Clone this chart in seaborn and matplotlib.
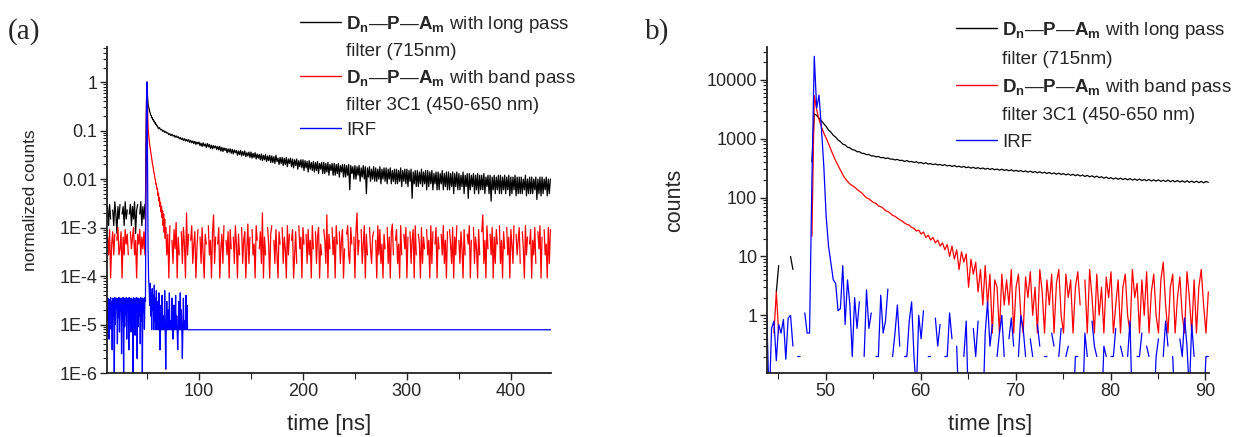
import numpy as np
import matplotlib
matplotlib.use("Agg")
import matplotlib.pyplot as plt
import seaborn as sns
from matplotlib.lines import Line2D
from matplotlib.ticker import LogLocator, MultipleLocator, NullFormatter

# ---------------- panel (a): normalized counts vs time [ns] ----------------
# black: long pass filter (values in units of 1e-3)
a_black_pre_time = np.arange(12.0, 48.5, 1.0)
a_black_pre = [2.7, 1.1, 3.0, 1.5, 0, 2.3, 1.1, 3.4, 1.9, 0.76, 2.7, 1.5, 3.0, 0, 1.9, 2.7, 1.1, 3.4, 1.5,
               2.3, 0, 1.9, 3.0, 1.1, 2.7, 1.5, 3.4, 0.76, 2.3, 3.0, 0, 1.9, 3.4, 1.1, 2.7, 1.5, 3.0]
a_black_rise_time = np.arange(48.5, 60.0, 0.5)
a_black_rise = [3.0, 30, 400, 1000, 500, 360, 305, 285, 248, 236, 210, 206, 185, 186, 168, 170, 155, 156,
                143, 145, 132, 134, 124]
a_black_tail_time = np.arange(60.0, 439.0, 1.0)
a_black_tail = [124, 110, 115, 104, 106, 97, 101, 92, 95, 89,
                90, 82, 86, 79, 84, 77, 80, 73, 78, 72,
                75, 68, 72, 65, 70, 63, 68, 61, 66, 60,
                65, 57, 63, 56, 61, 54, 60, 52, 58, 53,
                58, 49, 55, 47, 56, 48, 53, 45, 54, 46,
                52, 43, 50, 42, 49, 44, 48, 41, 47, 40,
                47, 38, 45, 37, 44, 39, 43, 35, 42, 36,
                42, 34, 41, 33, 40, 35, 39, 31, 38, 32,
                39, 30, 37, 31, 38, 29, 35, 30, 36, 28,
                36, 27, 34, 28, 35, 26, 33, 27, 32, 25,
                33, 24, 31, 25, 32, 23, 30, 24, 31, 22,
                30, 22, 29, 21, 31, 23, 27, 20, 28, 21,
                28, 19, 27, 20, 28, 18, 26, 21, 27, 18,
                26, 17, 25, 19, 26, 16, 24, 18, 25, 17,
                25, 15, 24, 17, 23, 14, 24, 16, 22, 15,
                23, 14, 22, 15, 23, 13, 21, 16, 22, 13,
                22, 13, 21, 14, 22, 12, 20, 15, 21, 12,
                21, 12, 20, 13, 21, 11, 19, 14, 20, 11,
                20, 11, 19, 12, 20, 6, 19, 13, 18, 10,
                19, 10, 18, 12, 19, 9, 17, 11, 19, 10,
                18, 5, 17, 11, 18, 9, 16, 10, 18, 9,
                17, 9, 16, 10, 18, 8, 16, 10, 17, 9,
                17, 8, 16, 10, 17, 8, 15, 9, 16, 8,
                16, 8, 15, 9, 17, 7, 15, 9, 16, 8,
                16, 7, 15, 9, 16, 4, 14, 8, 15, 7,
                15, 7, 14, 8, 16, 7, 14, 8, 15, 6,
                15, 7, 14, 8, 15, 6, 13, 8, 14, 6,
                14, 6, 13, 8, 15, 6, 13, 7, 14, 6,
                14, 6, 13, 7, 14, 5, 13, 7, 14, 6,
                13, 6, 12, 7, 14, 5, 12, 7, 13, 4,
                13, 6, 12, 7, 13, 5, 12, 6, 13, 5,
                12, 6, 12, 6, 13, 5, 11, 7, 12, 5,
                12, 3.5, 11, 6, 12, 5, 11, 6, 12, 5,
                12, 5, 11, 6, 12, 5, 11, 6, 12, 4.5,
                11, 5, 11, 6, 12, 4.5, 11, 5, 11, 5,
                11, 5, 10, 6, 12, 4.5, 10, 5, 11, 5,
                11, 5, 10, 6, 11, 3.8, 10, 5, 11, 4.5,
                11, 5, 10, 6, 11, 4.5, 10, 5, 10]

# red: band pass filter (pre/tail in counts, one count = 9.1e-5 normalized)
a_red_count_unit = 9.1e-5
a_red_pre_time = np.arange(12.0, 48.5, 1.0)
a_red_pre = [7, 3, 10, 1, 5, 9, 3, 8, 0, 6, 11, 3, 4, 9, 1, 7, 3, 10, 5, 8, 3, 0, 9, 4, 7, 11, 3, 6, 1, 8,
             5, 10, 3, 7, 4, 9, 3]
a_red_rise_time = np.arange(48.5, 68.0, 0.5)
a_red_rise = [9e-4, 0.02, 0.4, 1.0, 0.3, 0.12, 0.085, 0.066, 0.052, 0.044,
              0.036, 0.031, 0.026, 0.023, 0.019, 0.017, 0.014, 0.013, 0.0105, 0.0098,
              0.0078, 0.0079, 0.0062, 0.0064, 0.0046, 0.0051, 0.0035, 0.0041, 0.0027, 0.0033,
              0.0021, 0.0027, 0.0016, 0.0022, 0.0011, 0.0019, 0.0008, 0.0015, 0.0006]
a_red_tail_time = np.arange(68.0, 439.0, 1.0)
a_red_tail = [11, 3, 8, 1, 12, 0, 6, 2, 10, 4,
              14, 1, 7, 3, 0, 9, 2, 11, 5, 1,
              22, 3, 8, 0, 6, 12, 2, 5, 9, 1,
              4, 10, 0, 7, 2, 11, 3, 1, 8, 5,
              0, 12, 3, 6, 1, 9, 20, 2, 7, 0,
              5, 11, 1, 4, 8, 2, 12, 0, 6, 3,
              9, 1, 10, 4, 0, 7, 2, 12, 5, 1,
              8, 3, 0, 11, 2, 6, 9, 1, 4, 13,
              2, 7, 0, 10, 3, 5, 1, 12, 6, 0,
              4, 9, 2, 22, 1, 7, 3, 0, 11, 5,
              1, 8, 12, 0, 6, 2, 10, 3, 1, 9,
              5, 0, 11, 2, 7, 4, 1, 12, 3, 8,
              0, 6, 10, 1, 3, 9, 2, 0, 12, 4,
              7, 1, 11, 5, 0, 8, 2, 10, 3, 6,
              1, 12, 4, 0, 9, 2, 7, 11, 1, 5,
              3, 0, 10, 6, 2, 20, 1, 8, 4, 0,
              11, 3, 7, 1, 12, 5, 0, 9, 2, 6,
              10, 1, 4, 0, 8, 12, 3, 2, 11, 5,
              0, 7, 1, 9, 22, 3, 6, 0, 10, 2,
              5, 12, 1, 8, 3, 0, 11, 4, 2, 7,
              9, 0, 6, 1, 12, 3, 10, 2, 5, 1,
              8, 4, 0, 11, 2, 7, 1, 9, 13, 3,
              0, 6, 10, 2, 5, 1, 12, 3, 0, 8,
              4, 11, 1, 7, 0, 9, 2, 6, 10, 1,
              12, 3, 0, 8, 5, 1, 11, 2, 7, 4,
              0, 10, 3, 6, 1, 12, 2, 9, 0, 5,
              11, 1, 7, 4, 0, 8, 3, 12, 2, 6,
              1, 9, 0, 10, 5, 2, 11, 1, 7, 3,
              12, 0, 6, 2, 9, 4, 1, 10, 3, 0,
              8, 5, 12, 1, 6, 0, 11, 2, 7, 4,
              1, 10, 3, 0, 9, 20, 2, 6, 1, 12,
              4, 0, 8, 3, 11, 1, 7, 2, 10, 5,
              0, 12, 2, 6, 1, 9, 4, 0, 11, 3,
              7, 1, 10, 5, 2, 12, 0, 8, 3, 6,
              11, 2, 0, 9, 4, 1, 12, 3, 7, 0,
              5, 10, 1, 6, 3, 11, 2, 0, 9, 4,
              12, 1, 7, 0, 10, 3, 5, 1, 11, 2,
              10]

# blue: IRF (values in units of 1e-6)
a_blue_pre_time = np.arange(12.0, 48.5, 0.5)
a_blue_pre = [35, 12, 34, 5, 33, 18, 36, 8, 30, 3,
              35, 15, 34, 0.6, 36, 10, 33, 22, 35, 4,
              34, 14, 36, 7, 32, 19, 35, 2.5, 34, 12,
              36, 0.7, 35, 9, 33, 16, 36, 5, 34, 20,
              35, 3, 36, 11, 34, 7, 35, 17, 33, 0.8,
              36, 13, 34, 6, 35, 21, 36, 2, 34, 9,
              35, 15, 33, 4, 36, 12, 34, 0.9, 35, 18,
              34, 8, 36]
a_blue_peak_time = np.arange(48.5, 52.0, 0.5)
a_blue_peak = [30, 10000, 250000, 1000000, 20000, 400, 90]
a_blue_post_time = np.arange(52.0, 90.5, 0.5)
a_blue_post = [60, 25, 70, 15, 45, 7.8, 55, 20, 40, 7.8,
               65, 12, 35, 7.8, 50, 7.8, 30, 18, 7.8, 45,
               7.8, 3, 7.8, 25, 7.8, 40, 7.8, 7.8, 15, 7.8,
               50, 7.8, 1.2, 7.8, 30, 7.8, 7.8, 20, 7.8, 45,
               7.8, 12, 7.8, 7.8, 35, 7.8, 5, 7.8, 25, 7.8,
               7.8, 40, 7.8, 15, 7.8, 3, 7.8, 30, 7.8, 7.8,
               45, 7.8, 20, 7.8, 2, 7.8, 35, 7.8, 7.8, 12,
               7.8, 40, 7.8, 25, 7.8, 7.8, 7.8]
a_blue_end_time = [438.5]
a_blue_end = [7.8]

# ---------------- panel (b): counts vs time [ns] ----------------
b_time = np.arange(43.8, 90.45, 0.25)
b_black = [0, 0, 0, 0, 2.5, 7, 0, 0, 0, 0, 10, 6, 0, 0, 0, 0, 0, 0, 0, 400,
           2650, 2480, 2230, 2010, 1790,
           1610, 1400, 1290, 1140, 1060, 950, 890, 810, 780, 715, 700, 650,
           640, 600, 600, 565, 560, 535, 540, 510, 510, 490, 500, 475,
           480, 460, 470, 450, 450, 435, 445, 425, 430, 410, 425, 405,
           410, 395, 405, 385, 395, 375, 390, 370, 378, 362, 372, 358,
           365, 350, 362, 345, 352, 338, 350, 333, 340, 327, 338, 322,
           330, 316, 326, 312, 322, 308, 318, 303, 313, 300, 311, 296,
           305, 292, 303, 289, 298, 285, 296, 281, 290, 278, 288, 274,
           284, 270, 281, 267, 276, 263, 274, 260, 269, 256, 267, 253,
           262, 249, 260, 246, 255, 242, 252, 239, 248, 235, 245, 232,
           241, 228, 238, 225, 234, 221, 231, 218, 226, 213, 223, 210,
           218, 206, 215, 204, 214, 202, 211, 200, 210, 198, 207, 196,
           206, 194, 203, 193, 203, 191, 200, 190, 200, 188, 197, 187,
           198, 186, 195, 185, 195, 183, 193, 182, 193, 181, 190, 180,
           190, 179, 188, 178, 188, 181]
b_red = [0, 0, 0, 0.5, 2.5, 0.5, 0, 0, 0, 0, 0, 0, 0, 0, 0, 0, 0, 0, 0, 22,
         5400, 3100, 2100, 1600, 1250, 1020, 820, 650, 520, 420, 350, 290, 245,
         210, 188, 170, 160, 150, 138, 128, 120, 108, 99, 95, 88,
         82, 80, 72, 70, 66, 60, 58, 54, 50, 48, 45, 42,
         40, 37, 35, 34, 31, 30, 27, 28, 24, 26, 21, 23,
         19, 21, 17, 19, 15, 17, 13, 16, 10, 15, 9, 13,
         6, 12, 8, 11, 3, 9, 5, 8, 2.5, 6, 1.5, 7,
         1.5, 5, 0.5, 4, 3, 0.5, 5, 1.5,
         4, 1.5, 6, 0.5, 3, 5, 1, 0.5, 4.5, 2,
         5.5, 1, 3, 0.5, 6, 2.5, 0.5, 4, 1.5, 5,
         0.5, 3.5, 6, 1, 0.5, 5, 2, 4, 0.5, 3,
         5.5, 1.5, 0, 4, 0.5, 6, 2, 0.5, 5, 1,
         3, 0.5, 4.5, 2, 5.5, 0.5, 1.5, 4, 0.5, 3,
         5, 1, 0.5, 6, 2, 3.5, 0.5, 4, 1, 5.5,
         0.5, 2.5, 5, 1, 0.5, 4, 8, 1.5, 0.5, 3,
         5, 0.5, 2, 4.5, 1, 0.5, 5.5, 2, 0.5, 4,
         0.5, 3, 6, 1.5, 0.5, 2.5]
b_blue = [1.0, 0.03, 0.6, 0.8, 0.17, 0.7, 0.5, 0.85, 0.18, 0.9, 1.0, 0.3, 0, 0.2, 0.2, 0, 1.1, 0.5, 0.5, 200,
          25000, 3300, 5500, 1500, 350, 48, 15, 7.7, 4, 3.5, 1.2, 1.3, 7, 0.7, 4, 1.5, 0.2, 2, 0.6, 1.7,
          0, 0.2, 2.7, 0.6, 1.1,
          0, 0.2, 0.2, 2.2, 0.5, 0.8, 2.8, 0, 0.2, 0.5,
          1.5, 0.3, 0, 0.2, 0.2, 0.8, 1.7, 0.2, 0.05, 1.0,
          0.4, 1.2, 0, 0.2, 0.2, 0, 0.9, 0.3, 0.7, 0,
          0.2, 0.2, 1.1, 0.4, 0, 0.3, 0.02, 0, 0.2, 0.8,
          0.02, 0, 0.6, 0.2, 0.8, 0, 0.02, 0.5, 1.7, 0.3,
          0.7, 0, 0.2, 0.5, 1.0, 0.2, 0, 0.4, 0.9, 0.3,
          0, 0.2, 1.0, 0.6, 0.2, 0, 0.4, 0.2, 0, 0.7,
          0.3, 0, 0.2, 0.2, 0, 0.5, 0.3, 0, 0.2, 0.6,
          0, 0.2, 0.3, 0, 0.02, 0.2, 0.2, 0, 0.02, 0.5,
          0.2, 0, 0.8, 0.3, 0.2, 0, 0.02, 0.3, 0.2, 0,
          0.2, 0.2, 0.6, 0, 0.3, 0.2, 0, 0.2, 0.8, 0.02,
          0, 0.2, 0.2, 0.5, 0, 0.3, 0.2, 0, 0.02, 0.2,
          0.4, 0, 0.2, 0.8, 0.3, 0, 0.2, 0.02, 0, 0.4,
          0.2, 0.9, 0.3, 0.05, 0.7, 0.2, 0, 0.2, 0, 0.03,
          0.2, 0.2]

legend_labels = [r"$\mathbf{D_n}$—$\mathbf{P}$—$\mathbf{A_m}$ with long pass", "filter (715nm)",
                 r"$\mathbf{D_n}$—$\mathbf{P}$—$\mathbf{A_m}$ with band pass", "filter 3C1 (450-650 nm)",
                 "IRF"]
series_colors = ["#000000", "#ff0000", "#0000ff"]

a_yticks = [1e-6, 1e-5, 1e-4, 1e-3, 1e-2, 1e-1, 1]
a_yticklabels = ["1E-6", "1E-5", "1E-4", "1E-3", "0.01", "0.1", "1"]
b_yticks = [1, 10, 100, 1000, 10000]
b_yticklabels = ["1", "10", "100", "1000", "10000"]

# ---------------- style ----------------
sns.set_theme(style="ticks")
plt.rcParams["font.family"] = ["Liberation Sans", "DejaVu Sans"]
plt.rcParams["mathtext.fontset"] = "custom"
plt.rcParams["mathtext.rm"] = "Liberation Sans"
plt.rcParams["mathtext.bf"] = "Liberation Sans:bold"
plt.rcParams["mathtext.it"] = "Liberation Sans:italic"
plt.rcParams["axes.unicode_minus"] = False

fig = plt.figure(figsize=(12.38, 4.37), dpi=100)
fig.patch.set_facecolor("white")
ax_a = fig.add_axes([107 / 1238, 64 / 437, 444 / 1238, 326 / 437])
ax_b = fig.add_axes([767 / 1238, 64 / 437, 442 / 1238, 326 / 437])

# panel (a)
a_black_t = np.concatenate([a_black_pre_time, a_black_rise_time, a_black_tail_time])
a_black_y = np.concatenate([a_black_pre, a_black_rise, a_black_tail]) * 1e-3
a_red_t = np.concatenate([a_red_pre_time, a_red_rise_time, a_red_tail_time])
a_red_y = np.concatenate([np.array(a_red_pre) * a_red_count_unit, a_red_rise,
                          np.array(a_red_tail) * a_red_count_unit])
a_blue_t = np.concatenate([a_blue_pre_time, a_blue_peak_time, a_blue_post_time, a_blue_end_time])
a_blue_y = np.concatenate([a_blue_pre, a_blue_peak, a_blue_post, a_blue_end]) * 1e-6

for t, y, c in [(a_black_t, a_black_y, series_colors[0]), (a_red_t, a_red_y, series_colors[1]),
                (a_blue_t, a_blue_y, series_colors[2])]:
    sns.lineplot(x=t, y=y, ax=ax_a, color=c, linewidth=0.9, estimator=None, sort=False, legend=False)

for y, c in [(b_black, series_colors[0]), (b_red, series_colors[1]), (b_blue, series_colors[2])]:
    sns.lineplot(x=b_time, y=np.array(y, dtype=float), ax=ax_b, color=c, linewidth=0.9,
                 estimator=None, sort=False, legend=False)

for ax in (ax_a, ax_b):
    ax.set_yscale("log", nonpositive="mask")
    sns.despine(ax=ax)
    for s in ("left", "bottom"):
        ax.spines[s].set_linewidth(1.3)
        ax.spines[s].set_color("#222222")
    ax.yaxis.set_minor_locator(LogLocator(base=10, subs=np.arange(2, 10), numticks=50))
    ax.yaxis.set_minor_formatter(NullFormatter())
    ax.tick_params(which="major", direction="out", length=5, width=1.0, color="#222222",
                   labelsize=13, pad=2)
    ax.tick_params(which="minor", direction="out", length=3, width=0.8, color="#222222")
    ax.tick_params(axis="x", which="minor", length=4.5)
    ax.set_facecolor("white")
    ax.grid(False)

ax_a.set_xlim(11.5, 438.6)
ax_a.set_ylim(1e-6, 5.3)
ax_a.set_yticks(a_yticks)
ax_a.set_yticklabels(a_yticklabels)
ax_a.xaxis.set_major_locator(MultipleLocator(100))
ax_a.xaxis.set_minor_locator(MultipleLocator(50))

ax_b.set_xlim(43.82, 90.37)
ax_b.set_ylim(0.105, 36000)
ax_b.set_yticks(b_yticks)
ax_b.set_yticklabels(b_yticklabels)
ax_b.xaxis.set_major_locator(MultipleLocator(10))
ax_b.xaxis.set_minor_locator(MultipleLocator(5))

ax_a.set_xlabel("time [ns]", fontsize=16)
ax_b.set_xlabel("time [ns]", fontsize=16)
ax_a.xaxis.set_label_coords(0.5, -0.125)
ax_b.xaxis.set_label_coords(0.505, -0.125)
ax_a.set_ylabel("normalized counts", fontsize=12.5)
ax_b.set_ylabel("counts", fontsize=15.5)
ax_a.yaxis.set_label_coords(-0.155, 0.53)
ax_b.yaxis.set_label_coords(-0.185, 0.53)


def add_legend(ax, x, y, spacing):
    handles = [Line2D([], [], color=series_colors[0], lw=1.0), Line2D([], [], color="none"),
               Line2D([], [], color=series_colors[1], lw=1.0), Line2D([], [], color="none"),
               Line2D([], [], color=series_colors[2], lw=1.0)]
    ax.legend(handles, legend_labels, loc="upper left", bbox_to_anchor=(x, y),
              bbox_transform=fig.transFigure, frameon=False, fontsize=13.5, handlelength=2.2,
              handletextpad=0.25, labelspacing=spacing, borderpad=0, borderaxespad=0)


add_legend(ax_a, 300 / 1238, 1 - 14 / 437, 0.42)
add_legend(ax_b, 956 / 1238, 1 - 20 / 437, 0.5)

fig.text(8 / 1238, 1 - 39 / 437, "(a)", family=["Liberation Serif", "DejaVu Serif"], fontsize=21,
         va="baseline", ha="left")
fig.text(645 / 1238, 1 - 39 / 437, "b)", family=["Liberation Serif", "DejaVu Serif"], fontsize=21,
         va="baseline", ha="left")

fig.savefig("out.png", dpi=100, facecolor="white")
